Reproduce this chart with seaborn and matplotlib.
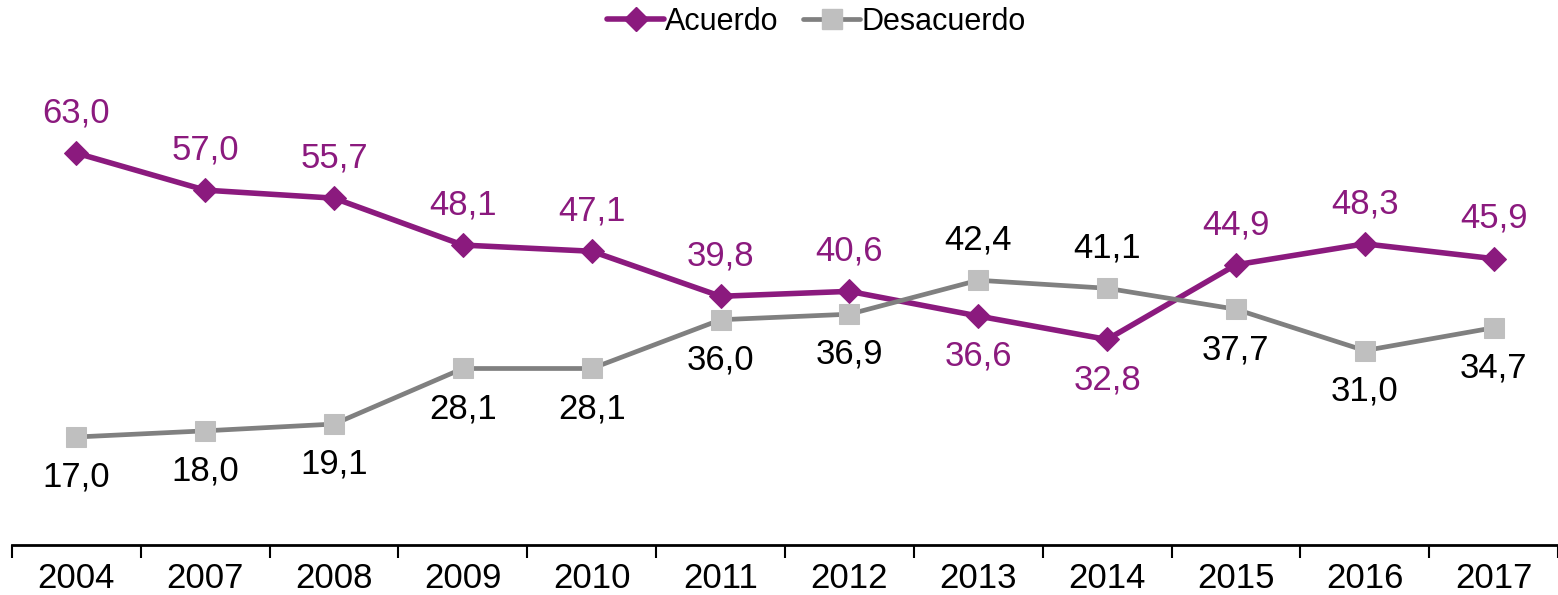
import pandas as pd
import numpy as np
import matplotlib.pyplot as plt
import seaborn as sns
from matplotlib.lines import Line2D

# data
years = ["2004", "2007", "2008", "2009", "2010", "2011",
         "2012", "2013", "2014", "2015", "2016", "2017"]
acuerdo = [63.0, 57.0, 55.7, 48.1, 47.1, 39.8, 40.6, 36.6, 32.8, 44.9, 48.3, 45.9]
desacuerdo = [17.0, 18.0, 19.1, 28.1, 28.1, 36.0, 36.9, 42.4, 41.1, 37.7, 31.0, 34.7]

# which labels sit above the point (True) or below (False)
acuerdo_above = [True, True, True, True, True, True, True, False, False, True, True, True]
desacuerdo_above = [False, False, False, False, False, False, False, True, True, False, False, False]

purple = "#8B1A7E"
gray_line = "#808080"
gray_mark = "#BFBFBF"

df = pd.DataFrame({
    "pos": list(range(len(years))) * 2,
    "valor": acuerdo + desacuerdo,
    "serie": ["Acuerdo"] * len(years) + ["Desacuerdo"] * len(years),
})

sns.set_style("white")
plt.rcParams["font.family"] = ["Liberation Sans", "DejaVu Sans"]

fig = plt.figure(figsize=(15.58, 5.95), dpi=100)
ax = fig.add_axes([12 / 1558, 50 / 595, 1546 / 1558, 432 / 595])

sns.lineplot(data=df, x="pos", y="valor", hue="serie", style="serie",
             palette={"Acuerdo": purple, "Desacuerdo": gray_line},
             markers={"Acuerdo": "D", "Desacuerdo": "s"}, dashes=False,
             linewidth=4, markersize=12, ax=ax, legend=False)

# recolour the square markers light gray like the original
for line in ax.lines:
    if line.get_marker() == "s":
        line.set_markerfacecolor(gray_mark)
        line.set_markeredgecolor(gray_mark)
        line.set_linewidth(3.4)
        line.set_markersize(15)
    else:
        line.set_markerfacecolor(purple)
        line.set_markeredgecolor(purple)

# value labels, comma decimals
def fmt(v):
    return f"{v:.1f}".replace(".", ",")

for i in range(len(years)):
    off = 29 if acuerdo_above[i] else -29
    ax.annotate(fmt(acuerdo[i]), (i, acuerdo[i]), xytext=(0, off),
                textcoords="offset points", ha="center", va="center",
                fontsize=25, color=purple)
    off = 29 if desacuerdo_above[i] else -29
    ax.annotate(fmt(desacuerdo[i]), (i, desacuerdo[i]), xytext=(0, off),
                textcoords="offset points", ha="center", va="center",
                fontsize=25, color="black")

ax.set_xlim(-0.5, len(years) - 0.5)
ax.set_ylim(-0.5, 69.5)
ax.set_yticks([])
ax.set_xlabel("")
ax.set_ylabel("")

# category labels at centres, tick marks at boundaries
ax.set_xticks(range(len(years)))
ax.set_xticklabels(years, fontsize=25, color="black")
ax.tick_params(axis="x", which="major", length=0, pad=12)
ax.set_xticks(np.arange(-0.5, len(years), 1), minor=True)
ax.tick_params(axis="x", which="minor", bottom=True, length=9, width=1.5,
               direction="out", color="black")

for s in ["top", "right", "left"]:
    ax.spines[s].set_visible(False)
ax.spines["bottom"].set_color("black")
ax.spines["bottom"].set_linewidth(2)

# legend at the top, a bit right of centre like the original
handles = [
    Line2D([], [], color=purple, lw=4, marker="D", markersize=12,
           markerfacecolor=purple, markeredgecolor=purple),
    Line2D([], [], color=gray_line, lw=3.4, marker="s", markersize=15,
           markerfacecolor=gray_mark, markeredgecolor=gray_mark),
]
fig.legend(handles, ["Acuerdo", "Desacuerdo"], loc="upper center",
           bbox_to_anchor=(0.524, 1.035), ncol=2, frameon=False, fontsize=22,
           handlelength=1.85, handletextpad=0.05, columnspacing=0.8,
           labelcolor="black")

plt.savefig("out.png", dpi=100)
